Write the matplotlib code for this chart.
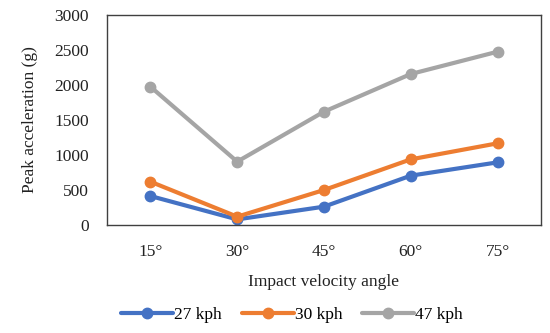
import matplotlib
matplotlib.use("Agg")
import matplotlib.pyplot as plt

categories = ["15°", "30°", "45°", "60°", "75°"]
s27 = [414, 80, 262, 705, 895]
s30 = [619, 119, 500, 938, 1167]
s47 = [1976, 905, 1619, 2157, 2476]
series_names = ["27 kph", "30 kph", "47 kph"]
colors = ["#4472C4", "#ED7D31", "#A5A5A5"]

plt.rcParams['font.family'] = ['Liberation Serif', 'DejaVu Serif']

fig = plt.figure(figsize=(5.5, 3.33), dpi=100)
ax = fig.add_axes([107/550, 1-225/333, 434/550, 210/333])

x = [i + 0.5 for i in range(len(categories))]
for vals, name, c in zip([s27, s30, s47], series_names, colors):
    ax.plot(x, vals, color=c, lw=3, marker='o', ms=7.5, label=name, solid_capstyle='round')

ax.set_xlim(0, 5)
ax.set_ylim(0, 3000)
ax.set_yticks(range(0, 3001, 500))
ax.set_xticks(x)
ax.set_xticklabels(categories)
ax.tick_params(length=0, labelsize=12.5, colors='#222222')
ax.tick_params(axis='x', pad=14)
ax.tick_params(axis='y', pad=13)
for sp in ax.spines.values():
    sp.set_color('#404040')
    sp.set_linewidth(1)
ax.set_xlabel("Impact velocity angle", fontsize=12.5, labelpad=10, color='#222222')
ax.set_ylabel("Peak acceleration (g)", fontsize=12.5, labelpad=12, color='#222222')

fig.legend(*ax.get_legend_handles_labels(), loc='center', bbox_to_anchor=(292/550, 1-315/333),
           ncol=3, frameon=False, fontsize=12.5, handlelength=3.0, handletextpad=0.05,
           columnspacing=1.15)

fig.savefig("out.png", dpi=100)
